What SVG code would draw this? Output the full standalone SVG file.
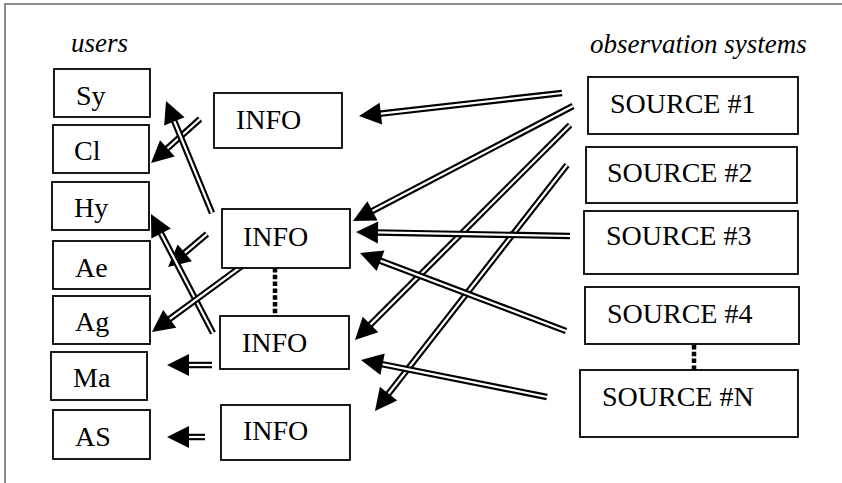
<svg xmlns="http://www.w3.org/2000/svg" width="842" height="483" viewBox="0 0 842 483">
<style>
.bg{fill:#fff}
.frame{fill:none;stroke:#8c8c8c;stroke-width:2}
.box{fill:#fff;stroke:#000;stroke-width:1.8}
.lbl{font-family:"Liberation Serif",serif;font-size:28px;fill:#000}
.hdr{font-family:"Liberation Serif",serif;font-size:27px;font-style:italic;fill:#000}
.o{stroke:#000;stroke-width:6.5;fill:none}
.i{stroke:#fff;stroke-width:2.2;fill:none;marker-end:url(#ah)}
.dot{stroke:#000;stroke-width:4.5;stroke-dasharray:4.5 2.3;fill:none}
</style>
<defs>
<marker id="ah" markerUnits="userSpaceOnUse" markerWidth="26" markerHeight="24" refX="2" refY="11" orient="auto" overflow="visible">
<path d="M0,0 L22,11 L0,22 z" fill="#000"/>
</marker>
</defs>
<rect class="bg" x="0" y="0" width="842" height="483"/>
<path class="frame" d="M5,483 V4 H842"/>
<text class="hdr" x="71" y="52">users</text>
<text class="hdr" x="590" y="53">observation systems</text>

<g id="connectors">
<line class="o" x1="562" y1="93" x2="378.9" y2="113.8"/><line class="i" x1="562" y1="93" x2="378.9" y2="113.8"/>
<line class="o" x1="573" y1="106" x2="370.7" y2="211.8"/><line class="i" x1="573" y1="106" x2="370.7" y2="211.8"/>
<line class="o" x1="570" y1="125" x2="369.1" y2="325.9"/><line class="i" x1="570" y1="125" x2="369.1" y2="325.9"/>
<line class="o" x1="567" y1="165" x2="387.3" y2="395.2"/><line class="i" x1="567" y1="165" x2="387.3" y2="395.2"/>
<line class="o" x1="570" y1="236" x2="376.0" y2="232.4"/><line class="i" x1="570" y1="236" x2="376.0" y2="232.4"/>
<line class="o" x1="566" y1="331" x2="378.7" y2="260.1"/><line class="i" x1="566" y1="331" x2="378.7" y2="260.1"/>
<line class="o" x1="547" y1="397" x2="380.6" y2="363.9"/><line class="i" x1="547" y1="397" x2="380.6" y2="363.9"/>
<line class="o" x1="200" y1="119" x2="165.9" y2="149.7"/><line class="i" x1="200" y1="119" x2="165.9" y2="149.7"/>
<line class="o" x1="212" y1="213" x2="173.6" y2="119.5"/><line class="i" x1="212" y1="213" x2="173.6" y2="119.5"/>
<line class="o" x1="207" y1="234" x2="183.3" y2="254.1"/><line class="i" x1="207" y1="234" x2="183.3" y2="254.1"/>
<line class="o" x1="213" y1="333" x2="160.2" y2="231.7"/><line class="i" x1="213" y1="333" x2="160.2" y2="231.7"/>
<line class="o" x1="246" y1="263" x2="168.1" y2="320.1"/><line class="i" x1="246" y1="263" x2="168.1" y2="320.1"/>
<line class="o" x1="212" y1="365" x2="187" y2="365"/><line class="i" x1="212" y1="365" x2="187" y2="365"/>
<line class="o" x1="205" y1="437" x2="187" y2="437"/><line class="i" x1="205" y1="437" x2="187" y2="437"/>
<line class="dot" x1="275" y1="268" x2="275" y2="316"/>
<line class="dot" x1="694" y1="345" x2="694" y2="370"/>
</g>

<g id="sy"><rect class="box" x="54" y="69" width="96" height="48"/><text class="lbl" x="76" y="105">Sy</text></g>
<g id="cl"><rect class="box" x="53" y="125" width="96" height="48"/><text class="lbl" x="74" y="160">Cl</text></g>
<g id="hy"><rect class="box" x="52" y="182" width="97" height="48"/><text class="lbl" x="74" y="217">Hy</text></g>
<g id="ae"><rect class="box" x="53" y="241" width="97" height="48"/><text class="lbl" x="75" y="277">Ae</text></g>
<g id="ag"><rect class="box" x="53" y="296" width="97" height="48"/><text class="lbl" x="75" y="331">Ag</text></g>
<g id="ma"><rect class="box" x="51" y="352" width="96" height="48"/><text class="lbl" x="73" y="387">Ma</text></g>
<g id="as"><rect class="box" x="53" y="410" width="97" height="49"/><text class="lbl" x="75" y="446">AS</text></g>

<g id="info1"><rect class="box" x="214" y="93" width="128" height="55"/><text class="lbl" x="236" y="129">INFO</text></g>
<g id="info2"><rect class="box" x="222" y="209" width="128" height="59"/><text class="lbl" x="243" y="246">INFO</text></g>
<g id="info3"><rect class="box" x="220" y="316" width="129" height="53"/><text class="lbl" x="242" y="352">INFO</text></g>
<g id="info4"><rect class="box" x="221" y="405" width="129" height="55"/><text class="lbl" x="243" y="440">INFO</text></g>

<g id="source1"><rect class="box" x="588" y="77" width="210" height="57"/><text class="lbl" x="610" y="113">SOURCE #1</text></g>
<g id="source2"><rect class="box" x="586" y="147" width="211" height="56"/><text class="lbl" x="607" y="182">SOURCE #2</text></g>
<g id="source3"><rect class="box" x="584" y="211" width="214" height="63"/><text class="lbl" x="606" y="245">SOURCE #3</text></g>
<g id="source4"><rect class="box" x="585" y="287" width="214" height="57"/><text class="lbl" x="607" y="323">SOURCE #4</text></g>
<g id="sourceN"><rect class="box" x="580" y="370" width="218" height="67"/><text class="lbl" x="602" y="406">SOURCE #N</text></g>
</svg>
